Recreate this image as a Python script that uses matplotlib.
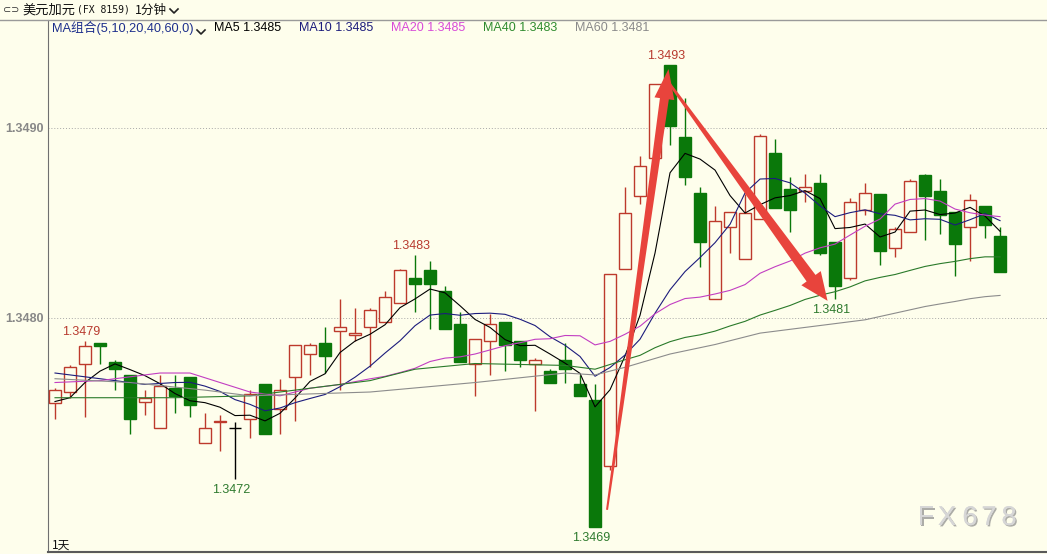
import numpy as np
import pandas as pd
import matplotlib
matplotlib.use("Agg")
import matplotlib.pyplot as plt
from matplotlib.patches import Polygon
from matplotlib.lines import Line2D
from matplotlib.transforms import IdentityTransform
import matplotlib.patheffects as pe

# 1-minute USD/CAD candles
opens = [1.34755, 1.34761, 1.34776, 1.34787, 1.34777, 1.34770, 1.34756, 1.34742,
         1.34763, 1.34769, 1.34734, 1.34745, 1.34742, 1.34747, 1.34765, 1.34752,
         1.34769, 1.34781, 1.34787, 1.34793, 1.34791, 1.34795, 1.34798, 1.34808,
         1.34821, 1.34825, 1.34814, 1.34797, 1.34776, 1.34788, 1.34798, 1.34788,
         1.34776, 1.34772, 1.34778, 1.34765, 1.34757, 1.34722, 1.34826, 1.34864,
         1.34884, 1.34933, 1.34895, 1.34866, 1.34810, 1.34848, 1.34831, 1.34852,
         1.34887, 1.34868, 1.34867, 1.34871, 1.34840, 1.34821, 1.34857, 1.34865,
         1.34837, 1.34845, 1.34875, 1.34867, 1.34856, 1.34848, 1.34859, 1.34843]
highs = [1.34763, 1.34775, 1.34788, 1.34787, 1.34778, 1.34770, 1.34762, 1.34770,
         1.34770, 1.34769, 1.34750, 1.34749, 1.34745, 1.34762, 1.34765, 1.34768,
         1.34786, 1.34787, 1.34795, 1.34810, 1.34805, 1.34805, 1.34814, 1.34826,
         1.34833, 1.34830, 1.34817, 1.34803, 1.34789, 1.34802, 1.34798, 1.34788,
         1.34779, 1.34773, 1.34787, 1.34770, 1.34765, 1.34823, 1.34869, 1.34885,
         1.34923, 1.34933, 1.34916, 1.34869, 1.34859, 1.34856, 1.34865, 1.34897,
         1.34894, 1.34874, 1.34876, 1.34876, 1.34840, 1.34863, 1.34871, 1.34865,
         1.34848, 1.34873, 1.34876, 1.34873, 1.34856, 1.34865, 1.34859, 1.34848]
lows = [1.34747, 1.34758, 1.34748, 1.34776, 1.34762, 1.34739, 1.34749, 1.34742,
        1.34750, 1.34748, 1.34734, 1.34730, 1.34715, 1.34737, 1.34739, 1.34739,
        1.34746, 1.34770, 1.34771, 1.34762, 1.34788, 1.34774, 1.34798, 1.34808,
        1.34803, 1.34794, 1.34794, 1.34777, 1.34759, 1.34770, 1.34772, 1.34774,
        1.34751, 1.34766, 1.34766, 1.34759, 1.34690, 1.34720, 1.34826, 1.34860,
        1.34884, 1.34891, 1.34870, 1.34827, 1.34810, 1.34834, 1.34831, 1.34852,
        1.34858, 1.34845, 1.34861, 1.34833, 1.34810, 1.34820, 1.34854, 1.34828,
        1.34832, 1.34845, 1.34841, 1.34844, 1.34822, 1.34830, 1.34842, 1.34824]
closes = [1.34762, 1.34774, 1.34785, 1.34785, 1.34773, 1.34747, 1.34758, 1.34764,
          1.34759, 1.34754, 1.34742, 1.34746, 1.34742, 1.34760, 1.34739, 1.34762,
          1.34786, 1.34786, 1.34780, 1.34795, 1.34792, 1.34804, 1.34811, 1.34825,
          1.34818, 1.34818, 1.34794, 1.34777, 1.34789, 1.34797, 1.34786, 1.34778,
          1.34778, 1.34766, 1.34773, 1.34759, 1.34690, 1.34823, 1.34855, 1.34880,
          1.34923, 1.34901, 1.34874, 1.34840, 1.34851, 1.34856, 1.34855, 1.34896,
          1.34858, 1.34857, 1.34869, 1.34834, 1.34817, 1.34861, 1.34866, 1.34835,
          1.34847, 1.34872, 1.34864, 1.34854, 1.34839, 1.34862, 1.34849, 1.34824]

# moving-average values before each window is full
ma5_head_idx = [0, 1, 2, 3]
ma5_head = [1.34756, 1.34758, 1.34766, 1.34772]
ma10_head_idx = [0, 3, 6, 8]
ma10_head = [1.34771, 1.34768, 1.34765, 1.34766]
ma20_head_idx = [0, 3, 7, 9, 13, 15, 17]
ma20_head = [1.34766, 1.34767, 1.34771, 1.34771, 1.34761, 1.34759, 1.34763]
ma40_head_idx = [0, 8, 13, 16, 21, 24, 28, 34, 36, 38]
ma40_head = [1.34758, 1.34758, 1.34759, 1.34762, 1.34767, 1.34773, 1.34776,
             1.34775, 1.34773, 1.34778]
ma60_head_idx = [0, 5, 10, 13, 21, 28, 34, 36, 38, 41, 44, 47, 50, 54, 58]
ma60_head = [1.34768, 1.34766, 1.34762, 1.34759, 1.34761, 1.34766, 1.34771,
             1.34770, 1.34774, 1.34781, 1.34786, 1.34792, 1.34795, 1.34799, 1.34806]

ma_periods = [5, 10, 20, 40, 60]
ma_colors = ["#000000", "#1c1c7c", "#c23ec2", "#2a7a2a", "#8c8c8c"]
ma_text_colors = ["#000000", "#1c1c7c", "#d84ad8", "#2e8b2e", "#8a8a8a"]

high_marks = [2, 24, 41]
low_marks = [12, 36, 52]
yticks = [1.3480, 1.3490]

# red arrows: (candle index, price) of tail and tip
arrows = [((36.8, 1.34699), (40.9, 1.34931)),
          ((40.9, 1.34924), (51.5, 1.34809))]

W, H = 1047, 554
bg = "#fefeec"
up_color = "#bd3a2c"
down_color = "#0a780a"
ui_font = ["Liberation Sans", "Noto Sans CJK SC"]
cjk = ["Noto Sans CJK SC", "DejaVu Sans"]

fig = plt.figure(figsize=(W / 100, H / 100), dpi=100, facecolor=bg)
ax = fig.add_axes([48 / W, 2 / H, (W - 48) / W, 532 / H], facecolor=bg)
ax.set_xlim(-0.467, 66.13)
ax.set_ylim(1.346768, 1.349568)

o = np.array(opens)
c = np.array(closes)
x = np.arange(len(o))
up = c > o
doji = c == o
col = np.where(up, up_color, down_color)
col = np.where(doji, "#000000", col)

ax.vlines(x, lows, highs, colors=col, lw=1, zorder=2)
body_h = np.maximum(np.abs(c - o), 2.5e-6)
ax.bar(x[~doji], body_h[~doji], bottom=np.minimum(o, c)[~doji], width=0.85,
       facecolor=np.where(up, bg, down_color)[~doji], edgecolor=col[~doji],
       lw=1, zorder=3)
ax.hlines(o[doji], x[doji] - 0.42, x[doji] + 0.42, colors="#000000", lw=1, zorder=3)

# moving averages
heads = [(ma5_head_idx, ma5_head), (ma10_head_idx, ma10_head),
         (ma20_head_idx, ma20_head), (ma40_head_idx, ma40_head),
         (ma60_head_idx, ma60_head)]
roll = pd.Series(closes)
last_vals = []
for n, (hi, hv), color in zip(ma_periods, heads, ma_colors):
    tail = roll.rolling(n).mean().to_numpy()[n - 1:]
    xs = list(hi) + list(range(n - 1, len(closes)))
    ys = list(hv) + list(tail)
    ax.plot(xs, ys, color=color, lw=0.8, zorder=4)
    last_vals.append(tail[-1])

# grid and axes
for t in yticks:
    ax.axhline(t, color="#a8a8a8", lw=0.7, ls=(0, (1, 2)), zorder=1)
ax.set_yticks(yticks)
ax.set_yticklabels([f"{t:.4f}" for t in yticks])
ax.set_xticks([])
ax.tick_params(axis="y", length=0, pad=3, labelsize=9, labelcolor="#888888")
for lab in ax.get_yticklabels():
    lab.set_fontweight("bold")
    lab.set_family("Liberation Sans")
ax.spines["top"].set_visible(False)
ax.spines["right"].set_visible(False)
ax.spines["left"].set_color("#707070")
ax.spines["bottom"].set_color("#5a5a5a")
ax.spines["bottom"].set_linewidth(1.5)

# high / low marks
for i in high_marks:
    ax.annotate(f"{highs[i]:.4f}", (i, highs[i]), xytext=(-4, 9),
                textcoords="offset pixels", ha="center", va="center",
                family="Liberation Sans", fontsize=9, color="#b83a2e", zorder=6)
for i in low_marks:
    ax.annotate(f"{lows[i]:.4f}", (i, lows[i]), xytext=(-4, -11),
                textcoords="offset pixels", ha="center", va="center",
                family="Liberation Sans", fontsize=9, color="#2e7a2e", zorder=6)


def tapered_arrow(ax, start, end, w0, w1, head_w, head_len, color):
    p0 = ax.transData.transform(start)
    p1 = ax.transData.transform(end)
    d = p1 - p0
    u = d / np.hypot(*d)
    nrm = np.array([-u[1], u[0]])
    b = p1 - u * head_len
    pts = [p0 + nrm * w0 / 2, b + nrm * w1 / 2, b + nrm * head_w / 2, p1,
           b - nrm * head_w / 2, b - nrm * w1 / 2, p0 - nrm * w0 / 2]
    ax.add_patch(Polygon(pts, closed=True, transform=IdentityTransform(),
                         facecolor=color, edgecolor="none", clip_on=False,
                         zorder=7))


tapered_arrow(ax, arrows[0][0], arrows[0][1], 2, 9, 20, 30, "#e8443c")
tapered_arrow(ax, arrows[1][0], arrows[1][1], 2.5, 11, 24, 28, "#e8443c")


def px(xp, yp):
    return xp / W, 1 - yp / H


def chevron(xc, yc, size=4, color="#222222"):
    xs = [xc - size, xc, xc + size]
    ys = [yc - size / 2, yc + size / 2, yc - size / 2]
    fig.add_artist(Line2D([v / W for v in xs], [1 - v / H for v in ys],
                          transform=fig.transFigure, color=color, lw=1.2))


# header row
fig.add_artist(Line2D([0, 1], [1 - 20 / H] * 2, transform=fig.transFigure,
                      color="#9a9a9a", lw=1))
fig.text(*px(3, 10), "⊂⊃", fontsize=7, color="#333333", va="center")
fig.text(*px(22, 10), "美元加元", family=cjk, fontsize=9.5,
         color="#111111", va="center")
fig.text(*px(77, 10), "(FX 8159)", family="DejaVu Sans Mono", fontsize=7,
         color="#111111", va="center")
fig.text(*px(135, 10), "1分钟", family=cjk, fontsize=9,
         color="#111111", va="center")
chevron(174, 11)

# MA legend row
fig.text(*px(52, 28), "MA组合(5,10,20,40,60,0)", family=ui_font, fontsize=9.2,
         color="#1c2e8c", va="center")
chevron(201, 32)
legend_x = [214, 299, 391, 483, 575]
for lx, n, v, tc in zip(legend_x, ma_periods, last_vals, ma_text_colors):
    fig.text(*px(lx, 28), f"MA{n} {v:.4f}", family="Liberation Sans",
             fontsize=9, color=tc, va="center")

fig.text(*px(52, 545), "1天", family=cjk, fontsize=8.5, color="#111111",
         va="center")

# watermark
for ch, cx in zip("FX678", [926, 947, 970, 989, 1009]):
    fig.text(*px(cx, 518), ch, family="Liberation Sans", fontsize=19.5,
             color="#d6d6d6", ha="center", va="center",
             path_effects=[pe.withSimplePatchShadow(offset=(1, -1),
                                                    shadow_rgbFace="#8a8a8a",
                                                    alpha=0.7),
                           pe.Normal()])

fig.savefig("out.png", dpi=100, facecolor=bg)
